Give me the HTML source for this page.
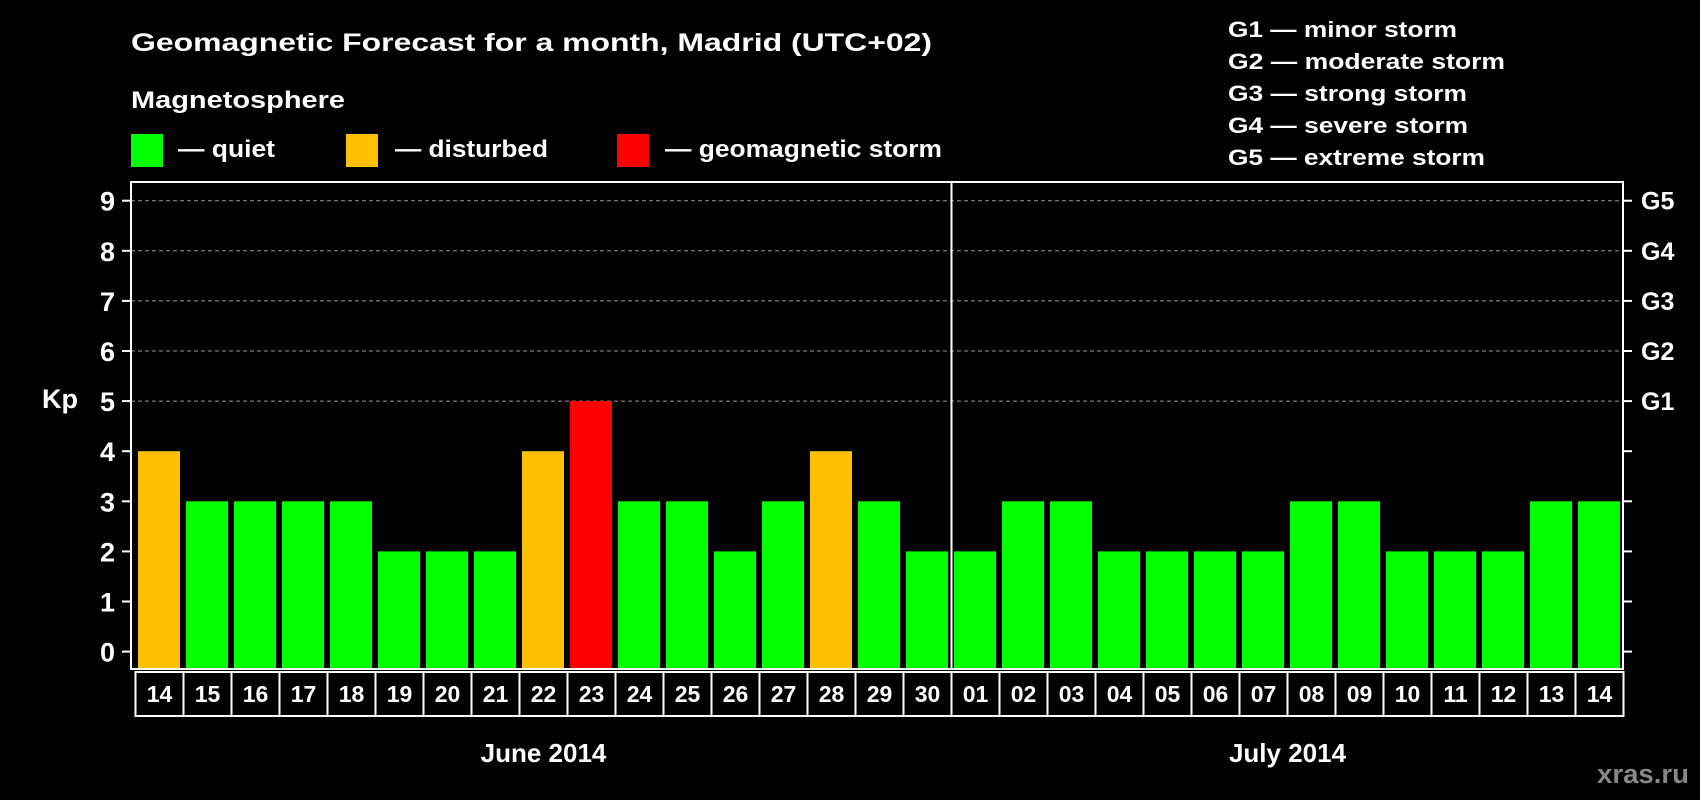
<!DOCTYPE html>
<html><head><meta charset="utf-8"><style>
html,body{margin:0;padding:0;background:#000;}
svg{display:block;font-family:"Liberation Sans",Arial,sans-serif;font-weight:bold;}
</style></head><body>
<svg id="chart" width="1700" height="800" viewBox="0 0 1700 800" xmlns="http://www.w3.org/2000/svg">
<rect x="0" y="0" width="1700" height="800" fill="#000"/>
<text x="131" y="51" fill="#fff" font-size="25" textLength="801" lengthAdjust="spacingAndGlyphs">Geomagnetic Forecast for a month, Madrid (UTC+02)</text>
<text x="131" y="108" fill="#fff" font-size="24" textLength="214" lengthAdjust="spacingAndGlyphs">Magnetosphere</text>
<g>
<rect x="131" y="134" width="32" height="33" fill="#00ff00"/>
<text x="178" y="157" fill="#fff" font-size="24" textLength="97" lengthAdjust="spacingAndGlyphs">— quiet</text></g>
<g>
<rect x="346" y="134" width="32" height="33" fill="#ffc000"/>
<text x="395" y="157" fill="#fff" font-size="24" textLength="153" lengthAdjust="spacingAndGlyphs">— disturbed</text></g>
<g>
<rect x="617" y="134" width="32" height="33" fill="#ff0000"/>
<text x="665" y="157" fill="#fff" font-size="24" textLength="277" lengthAdjust="spacingAndGlyphs">— geomagnetic storm</text></g>
<g fill="#fff" font-size="22">
<text x="1228" y="37" textLength="229" lengthAdjust="spacingAndGlyphs">G1 — minor storm</text>
<text x="1228" y="69" textLength="277" lengthAdjust="spacingAndGlyphs">G2 — moderate storm</text>
<text x="1228" y="101" textLength="239" lengthAdjust="spacingAndGlyphs">G3 — strong storm</text>
<text x="1228" y="133" textLength="240" lengthAdjust="spacingAndGlyphs">G4 — severe storm</text>
<text x="1228" y="165" textLength="257" lengthAdjust="spacingAndGlyphs">G5 — extreme storm</text>
</g>
<text x="42" y="408" fill="#fff" font-size="27">Kp</text>
<g id="grid"></g><g id="bars"></g><g id="axes"></g>
<text x="1597" y="783" fill="#888" font-size="27" textLength="92" lengthAdjust="spacingAndGlyphs">xras.ru</text>
</svg>
<script>
const days = ["14","15","16","17","18","19","20","21","22","23","24","25","26","27","28","29","30","01","02","03","04","05","06","07","08","09","10","11","12","13","14"];
const kpValues = [4,3,3,3,3,2,2,2,4,5,3,3,2,3,4,3,2,2,3,3,2,2,2,2,3,3,2,2,2,3,3];
const months = ["June 2014","July 2014"];
const monthDayCounts = [17,14];
const yTicks = [0,1,2,3,4,5,6,7,8,9];
const gLevels = ["G1","G2","G3","G4","G5"];
const gKp = [5,6,7,8,9];

const NS="http://www.w3.org/2000/svg";
const L=131,R=1623,T=182,B=669,boxL=135.5,pitch=48,boxT=672,boxB=716;
const y0=651.6,unit=50.1;
const y=v=>y0-v*unit;
const xs=i=>boxL+i*pitch;
function mk(tag,attrs,parent,txt){const e=document.createElementNS(NS,tag);for(const k in attrs)e.setAttribute(k,attrs[k]);if(txt!==undefined)e.textContent=txt;parent.appendChild(e);return e;}
const grid=document.getElementById('grid'),bars=document.getElementById('bars'),axes=document.getElementById('axes');
gKp.forEach((v,i)=>{
 const l=mk('line',{x1:L,x2:R,y1:y(v),y2:y(v),stroke:'#999','stroke-width':1,'stroke-dasharray':'4,3'},grid);
 
 
 const t=mk('text',{x:1641,y:y(v)+9,fill:'#fff','font-size':25},axes,gLevels[i]);
 
 
});
kpValues.forEach((v,i)=>{
 const c=v>=5?'#ff0000':(v>=4?'#ffc000':'#00ff00');
 const r=mk('rect',{x:xs(i)+2.5,y:y(v),width:42,height:y(0)-y(v)+17.4,fill:c},bars);
 
 
 const b=mk('rect',{x:xs(i),y:boxT,width:pitch,height:boxB-boxT,fill:'none',stroke:'#fff','stroke-width':2},axes);
 
 
 const t=mk('text',{x:xs(i)+pitch/2,y:702,fill:'#fff','font-size':23,'text-anchor':'middle'},axes,days[i]);
 
 
});
const frame=mk('rect',{x:L,y:T,width:R-L,height:B-T,fill:'none',stroke:'#fff','stroke-width':2},axes);


let acc=0;
months.forEach((m,i)=>{
 const cx=xs(acc+monthDayCounts[i]/2);
 const t=mk('text',{x:cx,y:762,fill:'#fff','font-size':26,'text-anchor':'middle'},axes,m);
 
 
 acc+=monthDayCounts[i];
 if(i<months.length-1){
  const s=mk('line',{x1:xs(acc),x2:xs(acc),y1:T,y2:B,stroke:'#fff','stroke-width':2},axes);
  
  
 }
});
yTicks.forEach(v=>{
 const tl=mk('line',{x1:122,x2:L,y1:y(v),y2:y(v),stroke:'#fff','stroke-width':2},axes);
 
 
 const tr=mk('line',{x1:R,x2:1632,y1:y(v),y2:y(v),stroke:'#fff','stroke-width':2},axes);
 
 
 const t=mk('text',{x:115,y:y(v)+10,fill:'#fff','font-size':27,'text-anchor':'end'},axes,String(v));
 
 
});
</script>
</body></html>
